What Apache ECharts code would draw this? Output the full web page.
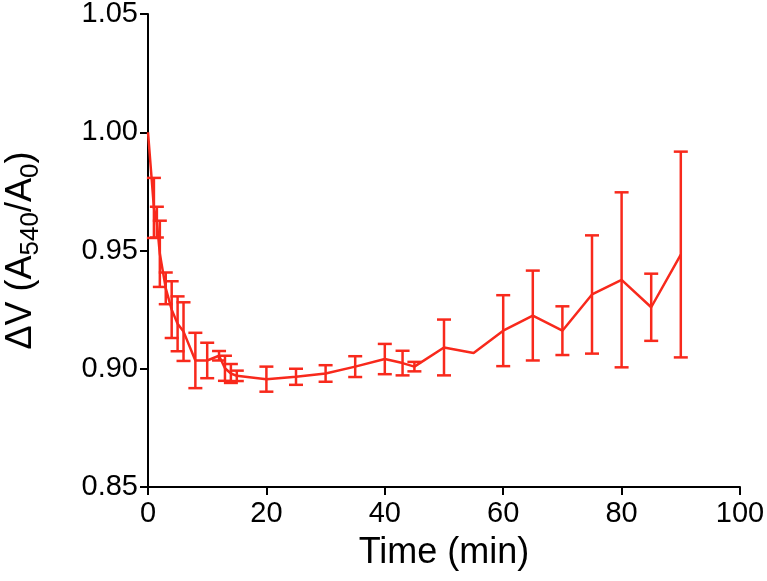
<!DOCTYPE html>
<html>
<head>
<meta charset="utf-8">
<script src="https://cdn.jsdelivr.net/npm/echarts@6/dist/echarts.min.js"></script>
<style>html,body{margin:0;padding:0;background:#fff;}#c{width:767px;height:581px;}</style>
</head>
<body>
<div id="c"></div>
<script>
const times  = [0, 1, 1.5, 2, 3, 4, 5, 6, 8, 10, 12, 13, 14, 15, 20, 25, 30, 35, 40, 43, 45, 50, 55, 60, 65, 70, 75, 80, 85, 90];
const means  = [1.000, 0.968, 0.962, 0.9486, 0.934, 0.925, 0.919, 0.9157, 0.9035, 0.9035, 0.9055, 0.9002, 0.898, 0.897, 0.8956, 0.8966, 0.898, 0.9009, 0.9041, 0.9024, 0.9009, 0.909, 0.9067, 0.9161, 0.9225, 0.9161, 0.9314, 0.9376, 0.926, 0.9483];
const errors = [0, 0.0127, 0.0065, 0.014, 0.0067, 0.012, 0.0116, 0.0124, 0.0117, 0.0075, 0.002, 0.0053, 0.004, 0.0022, 0.0053, 0.0034, 0.0035, 0.0044, 0.0064, 0.0052, 0.002, 0.0118, 0, 0.015, 0.019, 0.0103, 0.025, 0.037, 0.0142, 0.0435];
const xTicks = [0, 20, 40, 60, 80, 100];
const yTicks = [0.85, 0.90, 0.95, 1.00, 1.05];

const RED = '#f8291c';
const lineData = times.map((t, i) => [t, means[i]]);
const errData = times.map((t, i) => [t, means[i] - errors[i], means[i] + errors[i]]);

const chart = echarts.init(document.getElementById('c'), null, {renderer: 'canvas'});
const font = 'Liberation Sans, Arial, Helvetica, sans-serif';
chart.setOption({
  animation: false,
  backgroundColor: '#fff',
  grid: {left: 148, right: 27, top: 14, bottom: 94, containLabel: false, outerBoundsMode: 'none'},
  xAxis: {
    type: 'value', min: xTicks[0], max: xTicks[xTicks.length - 1], interval: 20,
    name: 'Time (min)', nameLocation: 'middle', nameGap: 48,
    nameTextStyle: {fontFamily: font, fontSize: 36, color: '#000'},
    axisLine: {show: true, onZero: false, lineStyle: {color: '#000', width: 2}},
    axisTick: {show: true, inside: false, length: 8, lineStyle: {color: '#000', width: 2}},
    axisLabel: {fontFamily: font, fontSize: 29, color: '#000', margin: 12},
    splitLine: {show: false}
  },
  yAxis: {
    type: 'value', min: yTicks[0], max: yTicks[yTicks.length - 1], interval: 0.05,
    name: '{n|ΔV (A}{s|540}{n|/A}{s|0}{n|)}', nameLocation: 'middle', nameGap: 104, nameRotate: 90,
    nameTextStyle: {
      fontFamily: font, fontSize: 36, color: '#000',
      rich: {
        n: {fontFamily: font, fontSize: 36, color: '#000', lineHeight: 46, verticalAlign: 'middle'},
        s: {fontFamily: font, fontSize: 26, color: '#000', lineHeight: 26, verticalAlign: 'bottom', padding: [16, 0, 0, 0]}
      }
    },
    axisLine: {show: true, onZero: false, lineStyle: {color: '#000', width: 2}},
    axisTick: {show: true, inside: false, length: 8, lineStyle: {color: '#000', width: 2}},
    axisLabel: {fontFamily: font, fontSize: 29, color: '#000', margin: 10, formatter: v => v.toFixed(2)},
    splitLine: {show: false}
  },
  series: [
    {
      type: 'line', data: lineData, showSymbol: false, symbol: 'none',
      lineStyle: {color: RED, width: 2.5}, z: 3
    },
    {
      type: 'custom', data: errData, z: 4,
      encode: {x: 0, y: [1, 2]},
      renderItem: function (params, api) {
        const x = api.value(0), lo = api.value(1), hi = api.value(2);
        if (hi - lo <= 0) return null;
        const pHi = api.coord([x, hi]);
        const pLo = api.coord([x, lo]);
        const hw = 7;
        const style = {stroke: RED, lineWidth: 2.5, fill: null};
        return {
          type: 'group',
          children: [
            {type: 'line', shape: {x1: pHi[0], y1: pHi[1], x2: pLo[0], y2: pLo[1]}, style: style},
            {type: 'line', shape: {x1: pHi[0] - hw, y1: pHi[1], x2: pHi[0] + hw, y2: pHi[1]}, style: style},
            {type: 'line', shape: {x1: pLo[0] - hw, y1: pLo[1], x2: pLo[0] + hw, y2: pLo[1]}, style: style}
          ]
        };
      }
    }
  ]
});
</script>
</body>
</html>
